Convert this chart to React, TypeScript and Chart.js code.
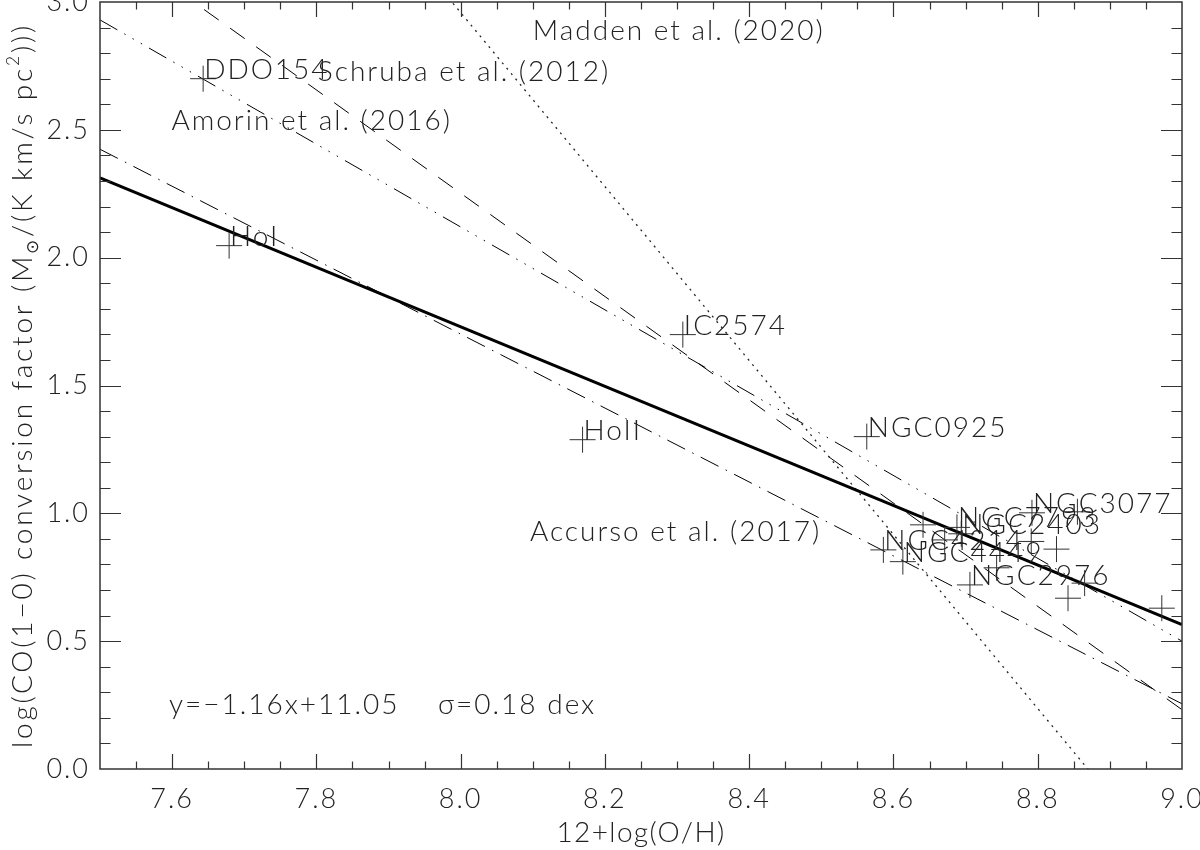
import React, { useEffect, useRef } from 'react';
import { Chart, registerables } from 'chart.js';

Chart.register(...registerables);

// ---------- data ----------
const galaxyNames = [
  'DDO154', 'HoI', 'HoII', 'IC2574', 'NGC0925', 'NGC3077', 'NGC7793', 'NGC2403',
  'NGC4214', 'NGC4449', 'NGC2976', '', '', '', '', '', '', '', '', '',
];
const galaxyLogOH = [
  7.643, 7.679, 8.169, 8.308, 8.563, 8.792, 8.688, 8.694,
  8.586, 8.613, 8.706, 8.641, 8.671, 8.743, 8.791, 8.826, 8.855, 8.865, 8.842, 8.972,
];
const galaxyLogAlpha = [
  2.70, 2.047, 1.288, 1.699, 1.30, 1.002, 0.945, 0.92,
  0.857, 0.811, 0.72, 0.955, 0.896, 0.787, 0.89, 0.86, 1.006, 0.727, 0.668, 0.629,
];

const relationX = [7.5, 9.0];
const fitY = [2.312, 0.565];
const maddenY = [4.66, -0.444];
const schrubaY = [3.262, 0.232];
const amorinY = [2.93, 0.5];
const accursoY = [2.424, 0.255];

const relationNames = ['Madden et al. (2020)', 'Schruba et al. (2012)', 'Amorin et al. (2016)', 'Accurso et al. (2017)'];
const relationLabelX = [8.1, 7.802, 7.599, 8.096];
const relationLabelY = [2.85, 2.69, 2.5, 0.892];

const fitText = 'y=\u22121.16x+11.05    \u03c3=0.18 dex';
const fitTextX = 7.5955;
const fitTextY = 0.215;

const xTickValues = [7.6, 7.8, 8.0, 8.2, 8.4, 8.6, 8.8, 9.0];
const yTickValues = [0.0, 0.5, 1.0, 1.5, 2.0, 2.5, 3.0];
const xTitle = '12+log(O/H)';

// ---------- style ----------
const FAMILY = 'Lato';
const WEIGHT = '300';
const TEXT_SIZE = 28;
const TICK_SIZE = 27;
const TEXT_COLOR = '#222';
const SPACING = '2px';
const X_TITLE_WIDTH = 169;
const Y_TITLE_LENGTH = 725;

const spacingPlugin = {
  id: 'idlSpacing',
  beforeDraw(chart: any) {
    (chart.ctx as any).letterSpacing = SPACING;
  },
};

const framePlugin = {
  id: 'idlFrame',
  afterDraw(chart: any) {
    const { ctx, chartArea: a, scales } = chart;
    const xs = scales.x;
    const ys = scales.y;
    ctx.save();
    ctx.strokeStyle = '#333';
    ctx.lineWidth = 1.5;
    ctx.strokeRect(a.left, a.top, a.right - a.left, a.bottom - a.top);
    ctx.lineWidth = 1.2;
    ctx.beginPath();
    for (let i = 1; i < 30; i++) {
      const v = 7.5 + i * 0.05;
      const px = Math.round(xs.getPixelForValue(v)) + 0.5;
      const major = i % 4 === 2;
      const len = major ? 15 : 7.5;
      ctx.moveTo(px, a.bottom);
      ctx.lineTo(px, a.bottom - len);
      ctx.moveTo(px, a.top);
      ctx.lineTo(px, a.top + len);
    }
    for (let i = 1; i < 30; i++) {
      const v = i * 0.1;
      const py = Math.round(ys.getPixelForValue(v)) + 0.5;
      const major = i % 5 === 0;
      const len = major ? 21 : 10.5;
      ctx.moveTo(a.left, py);
      ctx.lineTo(a.left + len, py);
      ctx.moveTo(a.right, py);
      ctx.lineTo(a.right - len, py);
    }
    ctx.stroke();
    ctx.restore();
  },
};

const textPlugin = {
  id: 'idlText',
  afterDatasetsDraw(chart: any) {
    const { ctx, chartArea: a, scales } = chart;
    const xs = scales.x;
    const ys = scales.y;
    const font = `${WEIGHT} ${TEXT_SIZE}px ${FAMILY}`;
    ctx.save();
    ctx.letterSpacing = SPACING;
    ctx.fillStyle = TEXT_COLOR;
    ctx.font = font;
    ctx.textAlign = 'left';
    ctx.textBaseline = 'alphabetic';
    const meta = chart.getDatasetMeta(0);
    meta.data.forEach((el: any, i: number) => {
      if (galaxyNames[i]) ctx.fillText(galaxyNames[i], el.x + 1, el.y);
    });
    relationNames.forEach((t, i) => {
      ctx.fillText(t, xs.getPixelForValue(relationLabelX[i]), ys.getPixelForValue(relationLabelY[i]));
    });
    ctx.fillText(fitText, xs.getPixelForValue(fitTextX), ys.getPixelForValue(fitTextY));

    // x title, spaced to the reference width
    ctx.letterSpacing = '0px';
    const xw = ctx.measureText(xTitle).width;
    const xls = (X_TITLE_WIDTH - xw) / xTitle.length;
    ctx.letterSpacing = `${xls}px`;
    ctx.textAlign = 'left';
    ctx.fillText(xTitle, (a.left + a.right) / 2 - X_TITLE_WIDTH / 2, 842);

    // y title with sub/superscripts
    const segs = [
      { t: 'log(CO(1\u22120) conversion factor (M', s: 1, dy: 0 },
      { t: '\u2299', s: 0.62, dy: 0.22 },
      { t: '/(K km/s pc', s: 1, dy: 0 },
      { t: '2', s: 0.62, dy: -0.45 },
      { t: ')))', s: 1, dy: 0 },
    ];
    ctx.letterSpacing = '0px';
    let raw = 0;
    let count = 0;
    segs.forEach((sg) => {
      ctx.font = `${WEIGHT} ${TEXT_SIZE * sg.s}px ${FAMILY}`;
      raw += ctx.measureText(sg.t).width;
      count += sg.t.length;
    });
    const yls = (Y_TITLE_LENGTH - raw) / count;
    ctx.letterSpacing = `${yls}px`;
    let total = 0;
    const widths = segs.map((sg) => {
      ctx.font = `${WEIGHT} ${TEXT_SIZE * sg.s}px ${FAMILY}`;
      const w = ctx.measureText(sg.t).width;
      total += w;
      return w;
    });
    ctx.translate(32, (a.top + a.bottom) / 2);
    ctx.rotate(-Math.PI / 2);
    ctx.textAlign = 'left';
    let cx = -total / 2;
    segs.forEach((sg, i) => {
      ctx.font = `${WEIGHT} ${TEXT_SIZE * sg.s}px ${FAMILY}`;
      ctx.fillText(sg.t, cx, sg.dy * TEXT_SIZE);
      cx += widths[i];
    });
    ctx.restore();
  },
};

function lineDataset(ys: number[], dash: number[], width: number, color = '#000') {
  return {
    type: 'line' as const,
    data: relationX.map((x, i) => ({ x, y: ys[i] })),
    borderColor: color,
    borderWidth: width,
    borderDash: dash,
    pointRadius: 0,
    fill: false,
    tension: 0,
  };
}

export default function App() {
  const ref = useRef<HTMLCanvasElement>(null);
  useEffect(() => {
    if (!ref.current) return;
    const tickFont = { family: FAMILY, size: TICK_SIZE, weight: WEIGHT as any };
    const chart = new Chart(ref.current, {
      type: 'scatter',
      data: {
        datasets: [
          {
            type: 'scatter',
            data: galaxyLogOH.map((x, i) => ({ x, y: galaxyLogAlpha[i] })),
            pointStyle: 'cross',
            pointRadius: 13,
            borderColor: '#333',
            borderWidth: 1,
            backgroundColor: 'transparent',
          } as any,
          lineDataset(fitY, [], 3),
          lineDataset(maddenY, [2, 5], 1.3, '#222'),
          lineDataset(schrubaY, [18, 14], 1),
          lineDataset(amorinY, [20, 8, 1.5, 8, 1.5, 8, 1.5, 8], 1),
          lineDataset(accursoY, [20, 8, 1.5, 8], 1),
        ],
      },
      options: {
        animation: false,
        responsive: false,
        maintainAspectRatio: false,
        layout: { autoPadding: false, padding: { top: 2, right: 18, left: 0, bottom: 0 } },
        plugins: { legend: { display: false }, tooltip: { enabled: false }, title: { display: false } },
        scales: {
          x: {
            type: 'linear',
            min: 7.5,
            max: 9.0,
            grid: { display: false, drawTicks: false },
            border: { display: false },
            afterBuildTicks: (s: any) => { s.ticks = xTickValues.map((v) => ({ value: v })); },
            afterFit: (s: any) => { s.height = 81; s.paddingLeft = 0; s.paddingRight = 0; },
            ticks: {
              autoSkip: false,
              maxRotation: 0,
              padding: 14,
              color: TEXT_COLOR,
              font: tickFont,
              callback: (v: any) => Number(v).toFixed(1),
            },
          },
          y: {
            type: 'linear',
            min: 0,
            max: 3,
            grid: { display: false, drawTicks: false },
            border: { display: false },
            afterBuildTicks: (s: any) => { s.ticks = yTickValues.map((v) => ({ value: v })); },
            afterFit: (s: any) => { s.width = 100; s.paddingTop = 0; s.paddingBottom = 0; },
            ticks: {
              autoSkip: false,
              padding: 10,
              color: TEXT_COLOR,
              font: tickFont,
              callback: (v: any) => Number(v).toFixed(1),
            },
          },
        },
      } as any,
      plugins: [spacingPlugin, framePlugin, textPlugin],
    });
    return () => chart.destroy();
  }, []);
  return (
    <div style={{ position: 'fixed', left: 0, top: 0, width: 1200, height: 850, background: '#fff' }}>
      <canvas ref={ref} width={1200} height={850} style={{ width: 1200, height: 850 }} />
    </div>
  );
}
